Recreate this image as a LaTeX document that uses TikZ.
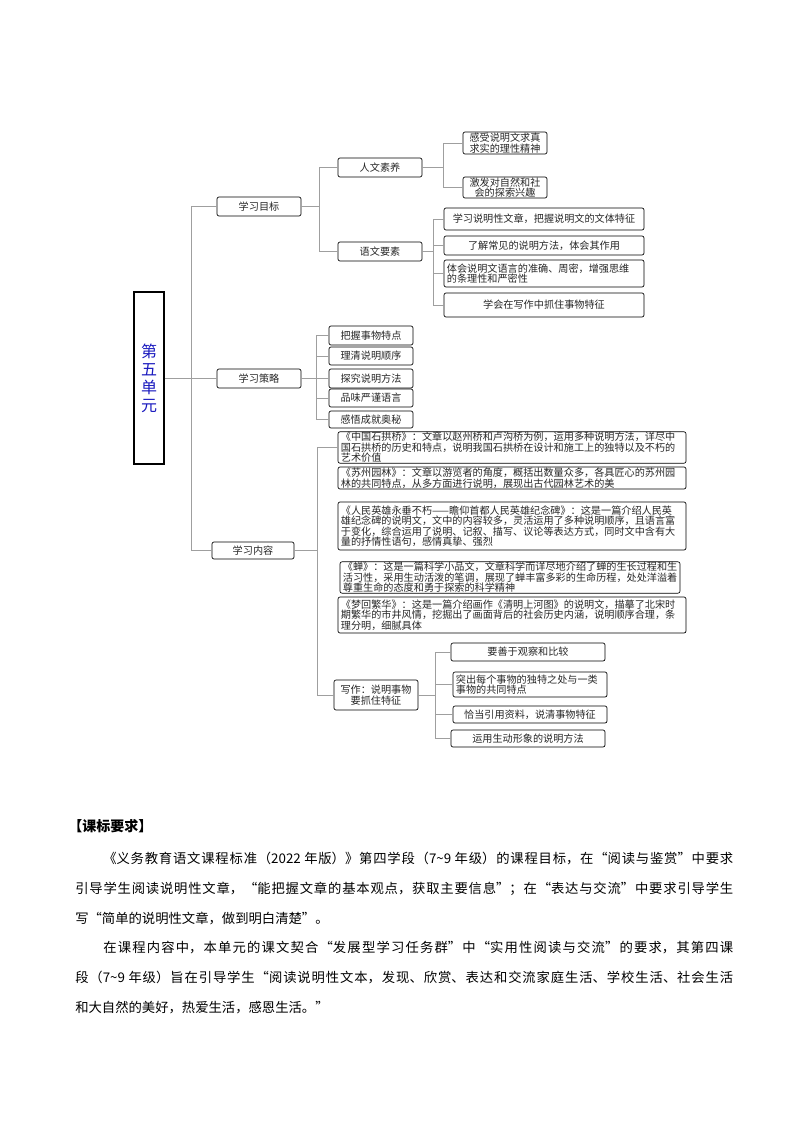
\documentclass[tikz,border=0pt]{standalone}
\usepackage{fontspec}
\setmainfont{Noto Sans CJK SC}
\usetikzlibrary{positioning}
\definecolor{unitblue}{RGB}{25,25,190}
\newcommand\zhbreak{\XeTeXlinebreaklocale "zh"\XeTeXlinebreakskip=0pt plus 2pt minus 0.2pt\relax}

\begin{document}
\begin{tikzpicture}[x=0.75pt, y=-0.75pt,
    box/.style={draw, rounded corners=1.5pt, line width=0.5pt,
    inner xsep=1pt, inner ysep=0.3pt, align=center, text=black!85,
    font=\fontsize{7.6}{7.9}\selectfont},
    textbox/.style={box, align=left, inner xsep=2.2pt, text width=#1},
    link/.style={draw=gray!75, line width=0.7pt},
    para/.style={anchor=base west, inner sep=0pt, text width=493.5pt,
    align=justify, font=\fontsize{10}{22.5}\selectfont\zhbreak}]

    \useasboundingbox (0,0) rectangle (794,1123);

    \node[draw, line width=0.8pt,
    minimum width=22.5pt,
    minimum height=129pt,
    text=unitblue, align=center,
    font=\fontsize{12}{13.5}\selectfont] (unit) at (149,378) {第\\五\\单\\元};

    \node[box, minimum width=63pt, minimum height=14.25pt] (goal) at (259,206.5) {学习目标};
    \node[box, minimum width=63pt, minimum height=14.25pt] (strat) at (259,378.5) {学习策略};
    \node[box, minimum width=61.5pt, minimum height=12.75pt] (cont) at (253,550.5) {学习内容};

    \node[box, minimum width=63pt, minimum height=14.25pt] (rw) at (380,167.5) {人文素养};
    \node[box, minimum width=63pt, minimum height=14.25pt] (yw) at (380,251.5) {语文要素};

    \node[box, minimum width=63pt, minimum height=16.5pt] (rw1) at (505,143) {感受说明文求真\\求实的理性精神};
    \node[box, minimum width=63pt, minimum height=15.75pt] (rw2) at (505,187.5) {激发对自然和社\\会的探索兴趣};

    \node[box, minimum width=150pt, minimum height=16.5pt] (yw1) at (544,219) {学习说明性文章，把握说明文的文体特征};
    \node[box, minimum width=150pt, minimum height=14.25pt] (yw2) at (544,245.5) {了解常见的说明方法，体会其作用};
    \node[textbox=145.6pt, minimum height=20.25pt] (yw3) at (544,273.5) {体会说明文语言的准确、周密，增强思维\\的条理性和严密性};
    \node[box, minimum width=150pt, minimum height=18pt] (yw4) at (544,305) {学会在写作中抓住事物特征};

    \node[box, minimum width=63pt, minimum height=14.25pt] (s1) at (371,335.5) {把握事物特点};
    \node[box, minimum width=63pt, minimum height=13.5pt] (s2) at (371,356) {理清说明顺序};
    \node[box, minimum width=63pt, minimum height=14.25pt] (s3) at (371,378.5) {探究说明方法};
    \node[box, minimum width=63pt, minimum height=13.5pt] (s4) at (371,398) {品味严谨语言};
    \node[box, minimum width=63pt, minimum height=12.75pt] (s5) at (371,419.5) {感悟成就奥秘};

    \node[textbox=256.6pt, minimum height=21.75pt] (a1) at (512,447.5)
    {《中国石拱桥》：文章以赵州桥和卢沟桥为例，运用多种说明方法，详尽中\\国石拱桥的历史和特点，说明我国石拱桥在设计和施工上的独特以及不朽的\\艺术价值};
    \node[textbox=256.6pt, minimum height=16.5pt] (a2) at (512,478)
    {《苏州园林》：文章以游览者的角度，概括出数量众多，各具匠心的苏州园\\林的共同特点，从多方面进行说明，展现出古代园林艺术的美};
    \node[textbox=256.6pt, minimum height=36pt] (a3) at (512,526)
    {《人民英雄永垂不朽——瞻仰首都人民英雄纪念碑》：这是一篇介绍人民英\\雄纪念碑的说明文，文中的内容较多，灵活运用了多种说明顺序，且语言富\\于变化，综合运用了说明、记叙、描写、议论等表达方式，同时文中含有大\\量的抒情性语句，感情真挚、强烈};
    \node[textbox=250.6pt, minimum height=23.25pt] (a4) at (510,577.5)
    {《蝉》：这是一篇科学小品文，文章科学而详尽地介绍了蝉的生长过程和生\\活习性，采用生动活泼的笔调，展现了蝉丰富多彩的生命历程，处处洋溢着\\尊重生命的态度和勇于探索的科学精神};
    \node[textbox=256.6pt, minimum height=27pt] (a5) at (512,615)
    {《梦回繁华》：这是一篇介绍画作《清明上河图》的说明文，描摹了北宋时\\期繁华的市井风情，挖掘出了画面背后的社会历史内涵，说明顺序合理，条\\理分明，细腻具体};

    \node[box, minimum width=63pt, minimum height=22.5pt] (write) at (376,695) {写作：说明事物\\要抓住特征};

    \node[box, minimum width=115.5pt, minimum height=13.5pt] (w1) at (528,652) {要善于观察和比较};
    \node[textbox=111.1pt, minimum height=18.75pt] (w2) at (530,684.5) {突出每个事物的独特之处与一类\\事物的共同特点};
    \node[box, minimum width=115.5pt, minimum height=12.75pt] (w3) at (530,714.5) {恰当引用资料，说清事物特征};
    \node[box, minimum width=115.5pt, minimum height=12.75pt] (w4) at (528,738.5) {运用生动形象的说明方法};

    \draw[link] (unit.east) -- ++(27,0) coordinate (trunk);
    \foreach \c in {goal,strat,cont} \draw[link] (trunk) |- (\c.west);

    \draw[link] (goal.east) -- ++(18,0) coordinate (jg);
    \foreach \c in {rw,yw} \draw[link] (jg) |- (\c.west);

    \draw[link] (rw.east) -- ++(21,0) coordinate (jr);
    \foreach \c in {rw1,rw2} \draw[link] (jr) |- (\c.west);

    \draw[link] (yw.east) -- ++(11,0) coordinate (jy);
    \foreach \c in {yw1,yw2,yw3,yw4} \draw[link] (jy) |- (\c.west);

    \draw[link] (strat.east) -- ++(15,0) coordinate (js);
    \foreach \c in {s1,s2,s3,s4,s5} \draw[link] (js) |- (\c.west);

    \draw[link] (cont.east) -- ++(23,0) coordinate (jc);
    \foreach \c in {a1,write} \draw[link] (jc) |- (\c.west);

    \draw[link] (write.east) -- ++(17,0) coordinate (jw);
    \foreach \c in {w1,w2,w3,w4} \draw[link] (jw) |- (\c.west);

    \node[anchor=base west, inner sep=0pt,
    font=\fontsize{10.5}{12}\selectfont\bfseries] (head) at (68,831) {【课标要求】};

    \node[para] (para1) at (75,863)
    {\hspace*{21pt}《义务教育语文课程标准（2022 年版）》第四学段（7\textasciitilde9 年级）的课程目标，在“阅读与鉴赏”中要求\linebreak
    引导学生阅读说明性文章，“能把握文章的基本观点，获取主要信息”；在“表达与交流”中要求引导学生\linebreak
    写“简单的说明性文章，做到明白清楚”。};

    \node[para] (para2) at (75,952)
    {\hspace*{21pt}在课程内容中，本单元的课文契合“发展型学习任务群”中“实用性阅读与交流”的要求，其第四课\linebreak
    段（7\textasciitilde9 年级）旨在引导学生“阅读说明性文本，发现、欣赏、表达和交流家庭生活、学校生活、社会生活\linebreak
    和大自然的美好，热爱生活，感恩生活。”};
\end{tikzpicture}
\end{document}
